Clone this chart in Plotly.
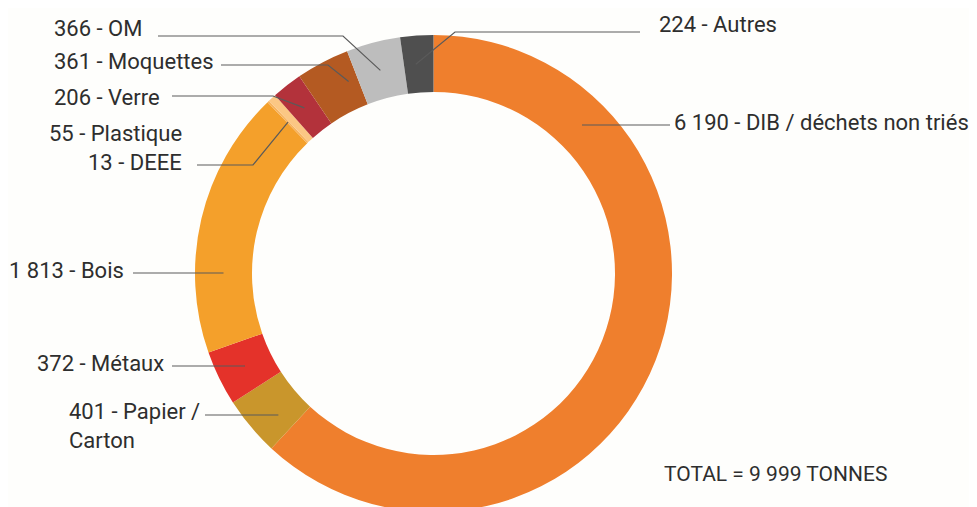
import math
import plotly.graph_objects as go

# tonnage per waste stream, clockwise from 12 o'clock
names = ["DIB / déchets non triés", "Papier / Carton", "Métaux", "Bois", "DEEE",
         "Plastique", "Verre", "Moquettes", "OM", "Autres"]
tonnes = [6190, 401, 372, 1813, 13, 55, 206, 361, 366, 224]
colors = ["#EF7F2D", "#C9962C", "#E4322A", "#F4A02B", "#F7B35E",
          "#FBC784", "#B3323B", "#B45A22", "#BDBDBD", "#4F4F4F"]
total_label = "TOTAL = 9 999 TONNES"

W, H = 977, 507
OFF = 8  # the page body has a default 8px margin, so the figure sits 8px in
# ring geometry in page pixels (y downwards)
cx, cy, r_out, r_in = 433.5, 273.5, 238.5, 181.5
r_mid = (r_out + r_in) / 2


def px(x):
    return (x - OFF) / W


def py(y):
    return 1 - (y - OFF) / H


def fmt(v):
    return f"{v:,}".replace(",", " ")


# label placement: x, y, xanchor, line start (x, y), elbow x or None, position in slice
place = {
    "DIB / déchets non triés": (672, 122, "left", (670, 125), None, None),
    "Papier / Carton": (67, 426, "left", (205, 415), None, None),
    "Métaux": (166, 363, "right", (172, 366), None, None),
    "Bois": (126, 270, "right", (133, 273), None, None),
    "DEEE": (184, 162, "right", (197, 165), 253, 0.5),
    "Plastique": (184, 133, "right", None, None, None),
    "Verre": (52, 97, "left", (172, 96), 273, 0.5),
    "Moquettes": (52, 62, "left", (221, 65), 328, 0.8),
    "OM": (52, 29, "left", (158, 36), 343, 0.5),
    "Autres": (657, 25, "left", (640, 32), 455, 0.4),
}

total = sum(tonnes)
starts = []
acc = 0
for v in tonnes:
    starts.append(acc / total * 360)
    acc += v

fig = go.Figure(go.Pie(
    labels=names,
    values=tonnes,
    hole=r_in / r_out,
    sort=False,
    direction="clockwise",
    rotation=0,
    textinfo="none",
    marker=dict(colors=colors, line=dict(width=0)),
    domain=dict(x=[px(cx - r_out), px(cx + r_out)], y=[py(cy + r_out), py(cy - r_out)]),
    showlegend=False,
))

font = dict(family="Roboto", size=22, color="#2e2e2e")
shapes = []
annotations = []
for i, name in enumerate(names):
    lx, ly, anchor, start, elbow, frac = place[name]
    text = f"{fmt(tonnes[i])} - {name}".replace("Papier / ", "Papier /<br>")
    annotations.append(dict(x=px(lx), y=py(ly), xref="paper", yref="paper", text=text,
                            showarrow=False, xanchor=anchor, yanchor="middle",
                            align="left", font=font))
    if start is None:
        continue
    sx, sy = start
    if elbow is None:
        # horizontal leader into the ring
        dx = math.sqrt(r_mid ** 2 - (sy - cy) ** 2)
        tx = cx + dx if sx > cx else cx - dx
        pts = [(sx, sy), (tx, sy)]
    else:
        ang = math.radians(starts[i] + frac * tonnes[i] / total * 360)
        tx = cx + r_mid * math.sin(ang)
        ty = cy - r_mid * math.cos(ang)
        pts = [(sx, sy), (elbow, sy), (tx, ty)]
    path = "M " + " L ".join(f"{px(x):.5f},{py(y):.5f}" for x, y in pts)
    shapes.append(dict(type="path", path=path, xref="paper", yref="paper",
                       line=dict(color="#5a5a5a", width=1.2), layer="above"))

annotations.append(dict(x=px(662), y=py(474), xref="paper", yref="paper", text=total_label,
                        showarrow=False, xanchor="left", yanchor="middle",
                        font=dict(family="Roboto", size=21, color="#2e2e2e")))

fig.update_layout(
    width=W, height=H,
    margin=dict(l=0, r=0, t=0, b=0),
    paper_bgcolor="#fefefc",
    plot_bgcolor="#fefefc",
    shapes=shapes,
    annotations=annotations,
)

fig.write_html("out.html")
